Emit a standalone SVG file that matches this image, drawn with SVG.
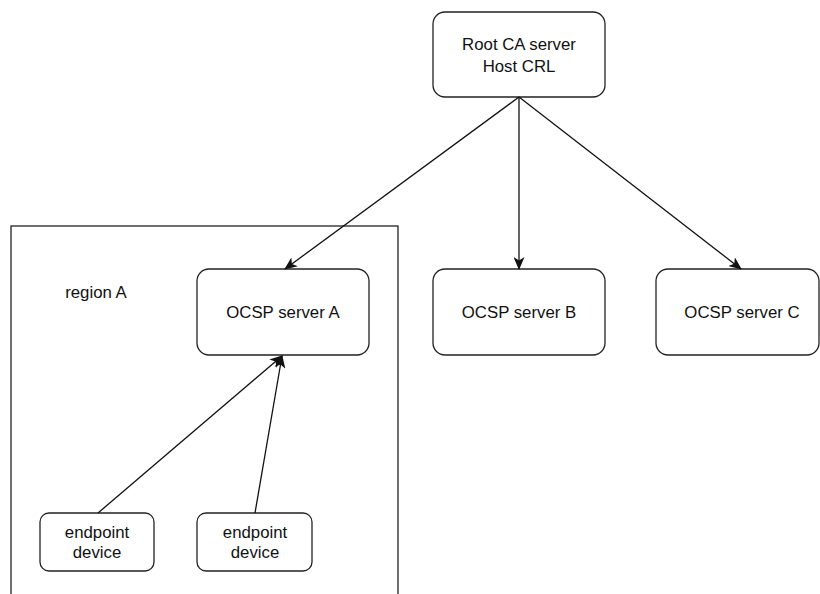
<svg xmlns="http://www.w3.org/2000/svg" width="820" height="594" viewBox="0 0 820 594">
<style>
.box{fill:#fff;stroke:#222;stroke-width:1.3}
.t{font-family:"Liberation Sans",Arial,sans-serif;font-size:16.8px;fill:#111;text-anchor:middle;dominant-baseline:central}
.c{fill:none;stroke:#111;stroke-width:1.3}
</style>
<defs>
<marker id="arr" viewBox="0 0 13 11" refX="12" refY="5.5" markerWidth="13" markerHeight="11" markerUnits="userSpaceOnUse" orient="auto">
<path d="M0,0 L13,5.5 L0,11 L3.5,5.5 Z" fill="#111"/>
</marker>
</defs>
<rect width="820" height="594" fill="#fff"/>
<g id="regionA">
<rect x="11" y="226" width="387" height="380" fill="none" stroke="#222" stroke-width="1.3"/>
<text class="t" x="96" y="292">region A</text>
</g>
<g id="root">
<rect class="box" x="433" y="12" width="172" height="85" rx="12"/>
<text class="t" x="519" y="44">Root CA server</text>
<text class="t" x="519" y="66">Host CRL</text>
</g>
<g id="ocspA">
<rect class="box" x="197" y="269" width="172" height="86" rx="12"/>
<text class="t" x="283" y="312">OCSP server A</text>
</g>
<g id="ocspB">
<rect class="box" x="433" y="269" width="172" height="86" rx="12"/>
<text class="t" x="519" y="312">OCSP server B</text>
</g>
<g id="ocspC">
<rect class="box" x="656" y="269" width="163" height="86" rx="12"/>
<text class="t" x="742" y="312">OCSP server C</text>
</g>
<g id="ep1">
<rect class="box" x="40" y="513" width="114" height="58" rx="9"/>
<text class="t" x="97" y="532">endpoint</text>
<text class="t" x="97" y="552">device</text>
</g>
<g id="ep2">
<rect class="box" x="197" y="513" width="115" height="58" rx="9"/>
<text class="t" x="255" y="532">endpoint</text>
<text class="t" x="255" y="552">device</text>
</g>
<g id="connectors">
<path class="c" d="M519,97 L285,269" marker-end="url(#arr)"/>
<path class="c" d="M519,97 L519,269" marker-end="url(#arr)"/>
<path class="c" d="M519,97 L741,269" marker-end="url(#arr)"/>
<path class="c" d="M98,513 L282,356" marker-end="url(#arr)"/>
<path class="c" d="M255,513 L282,356" marker-end="url(#arr)"/>
</g>
</svg>
